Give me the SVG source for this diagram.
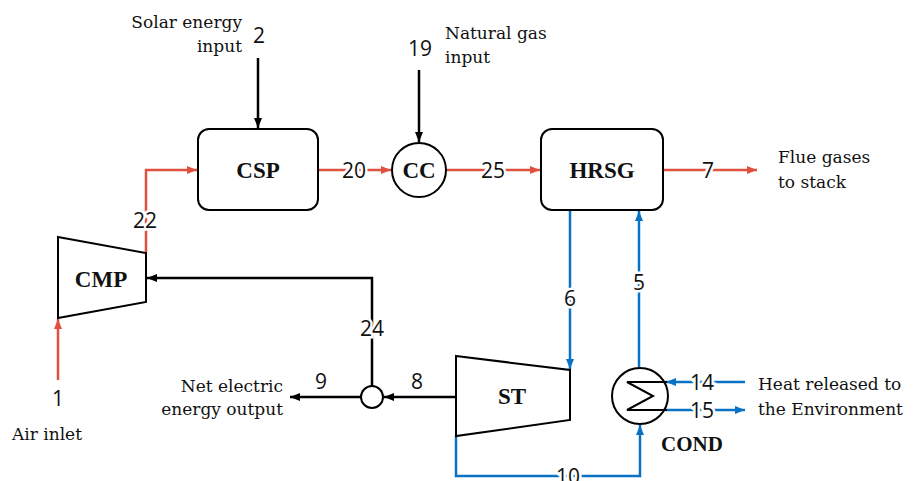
<svg xmlns="http://www.w3.org/2000/svg" width="914" height="481" viewBox="0 0 914 481">
<style>
.t{font-family:"DejaVu Serif","Liberation Serif",serif;font-size:17px;fill:#111}
.b{font-family:"Liberation Serif","DejaVu Serif",serif;font-size:23px;font-weight:bold;fill:#111;text-anchor:middle}
.n{font-family:"Open Sans","Liberation Sans",sans-serif;font-size:21px;fill:#111;text-anchor:middle;stroke:#fff;stroke-width:5px;paint-order:stroke}
.box{fill:#fff;stroke:#000;stroke-width:2}
.r{fill:none;stroke:#E0503F;stroke-width:2.5}
.u{fill:none;stroke:#0A72C4;stroke-width:2.5}
.k{fill:none;stroke:#000;stroke-width:2.5}
</style>
<defs>
<marker id="ar" markerWidth="10" markerHeight="8" refX="10" refY="4" orient="auto" markerUnits="userSpaceOnUse"><path d="M0,0L10,4L0,8z" fill="#E0503F"/></marker>
<marker id="au" markerWidth="10" markerHeight="8" refX="10" refY="4" orient="auto" markerUnits="userSpaceOnUse"><path d="M0,0L10,4L0,8z" fill="#0A72C4"/></marker>
<marker id="ak" markerWidth="10" markerHeight="8" refX="10" refY="4" orient="auto" markerUnits="userSpaceOnUse"><path d="M0,0L10,4L0,8z" fill="#000"/></marker>
</defs>
<rect width="914" height="481" fill="#fff"/>
<g id="connectors">
<path class="r" d="M146,253V170H197" marker-end="url(#ar)"/>
<path class="r" d="M58,380V319" marker-end="url(#ar)"/>
<path class="r" d="M318,170H391" marker-end="url(#ar)"/>
<path class="r" d="M446,170H540" marker-end="url(#ar)"/>
<path class="r" d="M663,170H757" marker-end="url(#ar)"/>
<path class="k" d="M258,58V128" marker-end="url(#ak)"/>
<path class="k" d="M419,70V142" marker-end="url(#ak)"/>
<path class="k" d="M372,386V278H147" marker-end="url(#ak)"/>
<path class="k" d="M456,397H384" marker-end="url(#ak)"/>
<path class="k" d="M361,397H290" marker-end="url(#ak)"/>
<path class="u" d="M570,210V369" marker-end="url(#au)"/>
<path class="u" d="M639,368V211" marker-end="url(#au)"/>
<path class="u" d="M456,436V476H640V425" marker-end="url(#au)"/>
<path class="u" d="M745,382H666" marker-end="url(#au)"/>
<path class="u" d="M666,410H745" marker-end="url(#au)"/>
<text class="n" x="145" y="228">22</text>
<text class="n" x="354" y="178">20</text>
<text class="n" x="493" y="178">25</text>
<text class="n" x="708" y="178">7</text>
<text class="n" x="570" y="306">6</text>
<text class="n" x="639" y="290">5</text>
<text class="n" x="372" y="336">24</text>
<text class="n" x="417" y="389">8</text>
<text class="n" x="321" y="389">9</text>
<text class="n" x="568" y="484">10</text>
<text class="n" x="702" y="390">14</text>
<text class="n" x="702" y="418">15</text>
<text class="n" x="259" y="43">2</text>
<text class="n" x="420" y="56">19</text>
<text class="n" x="58" y="406">1</text>
</g>
<g id="csp"><rect class="box" x="198" y="129" width="120" height="81" rx="11"/><text class="b" x="258" y="178">CSP</text></g>
<g id="cc"><circle class="box" cx="419" cy="170" r="27"/><text class="b" x="419" y="178">CC</text></g>
<g id="hrsg"><rect class="box" x="541" y="129" width="122" height="81" rx="11"/><text class="b" x="602" y="178">HRSG</text></g>
<g id="cmp"><path class="box" d="M58,237L146,253V302L58,318Z"/><text class="b" x="101" y="287">CMP</text></g>
<g id="st"><path class="box" d="M456,356L570,370V420L456,436Z"/><text class="b" x="512" y="404">ST</text></g>
<g id="mix"><circle class="box" cx="372" cy="397" r="11"/></g>
<g id="cond"><circle class="box" cx="640" cy="396" r="28"/><path d="M667,382H627L653,396L627,410H667" fill="none" stroke="#000" stroke-width="2"/><text class="b" x="692" y="451" style="font-size:21px">COND</text></g>
<g id="texts">
<text class="t" x="242" y="28" text-anchor="end">Solar energy</text>
<text class="t" x="242" y="52" text-anchor="end">input</text>
<text class="t" x="445" y="39">Natural gas</text>
<text class="t" x="445" y="63">input</text>
<text class="t" x="778" y="163">Flue gases</text>
<text class="t" x="778" y="188">to stack</text>
<text class="t" x="283" y="392" text-anchor="end">Net electric</text>
<text class="t" x="283" y="415" text-anchor="end">energy output</text>
<text class="t" x="12" y="440">Air inlet</text>
<text class="t" x="758" y="390">Heat released to</text>
<text class="t" x="758" y="415">the Environment</text>
</g>
</svg>
